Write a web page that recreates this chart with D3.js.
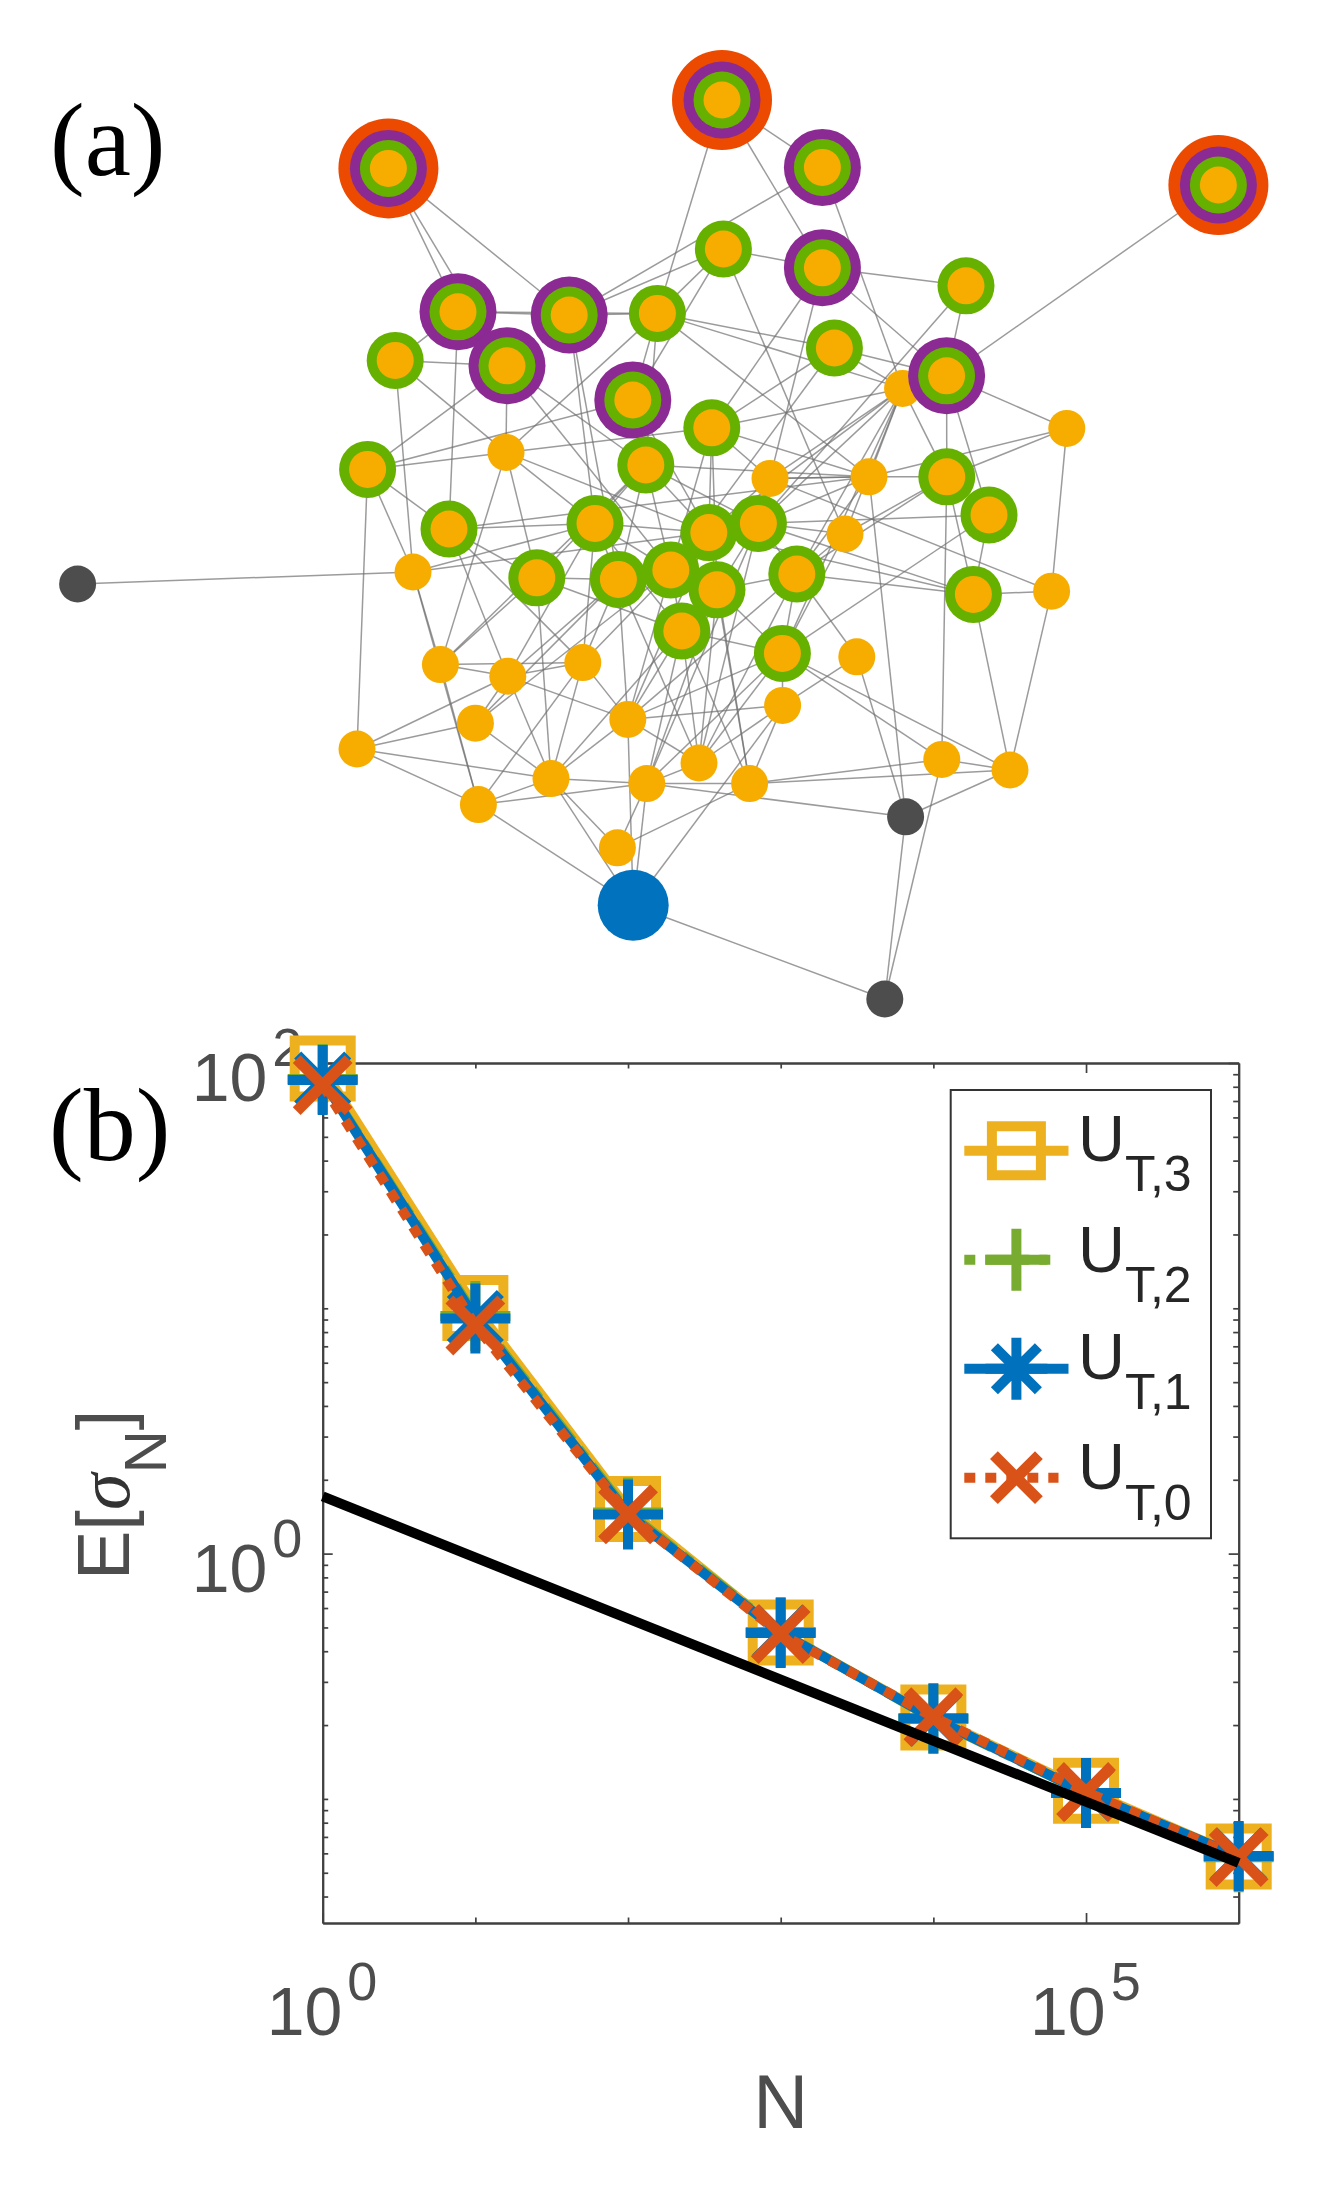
<!DOCTYPE html>
<html>
	<head>
		<meta charset="utf-8">
		<script src="https://d3js.org/d3.v7.min.js" charset="utf-8"></script>
		<style>
		body{
			margin:0;
			background-color: white;
		}
		svg{
			display:block;
		}
		</style>
	</head>
	<body>
		<div class="demo1"></div>
	</body>
	<script>
		// panel (a): network layout, node kind (-1 gray, 0 orange, 1 green, 2 purple, 3 red, 4 blue)
		var nodeX = [194.2,361,609.2,229,284.6,253.5,316.4,411.2,411.2,473.3,197.6,183.8,328.7,361.7,483,417.2,355.9,322.9,224.5,297.5,268.4,309.2,335.4,354.4,358.5,340.9,379.2,398.4,391.2,473.4,494.5,486.7,253,451.3,533.4,385,434.5,422.5,525.8,428.4,391.3,349.5,374.8,470.9,505,206.5,220.2,253.9,291.4,237.7,313.9,178.5,275.5,323.4,239.2,308.7,38.8,452.8,442.4,316.6];
		var nodeY = [84.2,50,92.5,155.9,157.5,182.9,200,83.7,133.9,187.9,180.2,234.7,156.7,124.5,142.9,174,213.9,232.5,264.5,261.7,288.9,289.7,285,266.3,294.9,315.5,261.7,287,326.7,238.4,257.5,297.2,226.2,194.2,214.2,239.2,238.4,267,295.6,328.4,352.7,381.5,391.8,379.7,385,286,332.3,338.1,331.3,361.6,359.7,374.5,389.3,391.8,402.3,423.9,292,408.4,499.5,452.6];
		var nodeKind = [3,3,3,2,2,2,2,2,2,2,1,1,1,1,1,1,1,1,1,1,1,1,1,1,1,1,1,1,1,1,1,1,0,0,0,0,0,0,0,0,0,0,0,0,0,0,0,0,0,0,0,0,0,0,0,0,-1,-1,-1,4];
		var edgeList = [
			[0,3],[0,5],[0,4],[1,12],[1,7],[1,8],[7,4],[7,33],[13,4],[13,8],[13,12],[13,6],[13,37],[8,14],[8,9],[8,16],[8,35],[14,9],[14,26],[2,9],
			[12,15],[12,33],[12,36],[15,9],[15,33],[15,16],[15,22],[33,16],[33,36],[33,29],[33,35],[33,26],[33,27],[33,37],[33,28],[33,23],[9,29],[9,30],[9,34],[34,29],[34,36],[34,38],[29,36],[36,35],[17,36],[19,23],[18,19],
			[10,3],[10,5],[3,4],[4,12],[3,12],[3,18],[10,45],[10,32],[5,11],[5,32],[5,22],[5,17],[4,19],[4,21],[12,32],[12,6],[12,17],[11,32],[11,6],[32,16],[32,23],[32,19],[32,20],[32,46],[11,51],[11,45],[11,18],[45,56],[45,19],[45,23],[45,46],[45,54],[46,47],[46,20],[18,47],[18,48],[18,20],[47,19],[20,52],[20,21],[20,25],
			[48,50],[48,52],[47,50],[47,52],[49,52],[46,54],[47,49],[51,47],[51,49],[51,52],[51,54],[54,52],[54,48],[54,59],[52,55],[52,59],[52,50],[52,53],[54,53],[50,59],[53,59],[53,55],[55,42],[59,40],[59,58],[53,42],[53,57],[42,43],[42,44],[43,44],[44,57],[43,58],[57,58],[43,28],[44,28],[43,29],[44,31],[44,38],[31,38],[31,30],[29,31],[57,39],[57,36],[39,27],[39,40],[23,31],[27,31],[26,31],[38,35],[30,26],[30,28],[29,27],[29,37],[46,48],[47,48],
			[16,35],[16,24],[17,22],[17,21],[17,19],[17,23],[17,26],[19,21],[19,22],[19,25],[19,48],[21,22],[22,24],[23,26],[6,17],[6,23],[16,23],[16,22],[35,26],[35,23],[35,36],[26,37],[26,27],[27,37],[27,28],[24,28],[24,41],[25,28],[25,41],[21,41],[21,50],[22,50],[23,50],[25,50],[27,50],[28,50],[40,50],[41,28],[41,27],[41,26],[42,23],[42,25],[42,24],[42,40],[53,25],[53,28],[53,41],[50,41],[41,40],[49,21],[47,21],[48,21],[49,22],[46,17],[18,36],[40,28],[37,28],[36,27],[36,26],[16,36],[24,27],[24,26],[25,22],[20,17],[48,23],[52,24],[53,26],[53,24]
		];

		// panel (b): values
		var sizesN = [1,10,100,1000,10000,100000,1000000];
		var ut3 = [94.9,10.03,1.52,0.477,0.2147,0.108,0.0583];
		var ut2 = [86,9.3,1.47,0.479,0.2118,0.1057,0.0579];
		var ut1 = [85.2,9.09,1.444,0.475,0.2132,0.1057,0.0585];
		var ut0 = [81.3,8.51,1.444,0.47,0.2157,0.1067,0.0579];
		var refN = [1,1000000];
		var refLine = [1.71,0.0549];
		var xTicks = [1,10,100,1000,10000,100000,1000000];
		var xMajor = [1,100000];
		var xLabels = [[1,'0'],[100000,'5']];
		var yMajor = [1,100];
		var yLabels = [[1,'0'],[100,'2']];
		var legendNames = ['3','2','1','0'];

		var svg = d3.select('.demo1').append('svg')
					.attr('width',1328)
					.attr('height',2206);

		/* ---------- panel (a) ---------- */
		var netX = d3.scaleLinear().domain([0,664]).range([0,1328]);
		var netY = d3.scaleLinear().domain([0,500]).range([0,1000]);

		var ringColor = {3:'#EB4A00',2:'#8A2A92',1:'#66B000',0:'#F7AD00','-1':'#4D4D4D',4:'#0072BE'};
		var ringRadius = {3:50,2:38.5,1:28.5,0:18.5,'-1':18.5,4:35.5};

		svg.append('g').selectAll('line').data(edgeList).enter().append('line')
			.attr('x1',function(d){ return netX(nodeX[d[0]]); })
			.attr('y1',function(d){ return netY(nodeY[d[0]]); })
			.attr('x2',function(d){ return netX(nodeX[d[1]]); })
			.attr('y2',function(d){ return netY(nodeY[d[1]]); })
			.attr('stroke','#707070')
			.attr('stroke-opacity',0.7)
			.attr('stroke-width',1.5);

		var nodeOrder = d3.range(nodeX.length).sort(function(a,b){
			var ka = nodeKind[a] > 0 && nodeKind[a] < 4 ? 1 : 0;
			var kb = nodeKind[b] > 0 && nodeKind[b] < 4 ? 1 : 0;
			return (ka-kb) || (a-b);
		});
		var nodes = svg.append('g').selectAll('g').data(nodeOrder).enter().append('g')
			.attr('transform',function(i){ return 'translate('+netX(nodeX[i])+','+netY(nodeY[i])+')'; });
		nodes.each(function(i){
			var kind = nodeKind[i];
			var rings = kind > 0 && kind < 4 ? d3.range(kind,-1,-1) : [kind];
			d3.select(this).selectAll('circle').data(rings).enter().append('circle')
				.attr('r',function(k){ return ringRadius[k]; })
				.attr('fill',function(k){ return ringColor[k]; });
		});

		/* ---------- panel (b) ---------- */
		var left = 322.7, right = 1238.7, top_ = 1063, bottom = 1923;
		var x = d3.scaleLog().domain([1,1000000]).range([left,right]);
		var y = d3.scaleLog().domain([0.0312,100]).range([bottom,top_]);

		var axisColor = '#404040';
		function notIn(list){
			return function(v){ return list.indexOf(v) < 0; };
		}
		var xMinor = xTicks.filter(notIn(xMajor)).filter(function(v){ return v < 1000000; });
		var yMinor = y.ticks().filter(notIn(yMajor));

		function drawAxis(axisFn,scale,values,size,dx,dy){
			var g = svg.append('g')
				.attr('transform','translate('+dx+','+dy+')')
				.call(axisFn(scale).tickValues(values).tickSize(size).tickSizeOuter(0).tickFormat(''));
			g.selectAll('line').attr('stroke',axisColor).attr('stroke-width',1.7);
			g.select('.domain').attr('stroke',axisColor).attr('stroke-width',2);
			return g;
		}
		drawAxis(d3.axisBottom,x,xMajor,-10,0,bottom);
		drawAxis(d3.axisBottom,x,xMinor,-5.5,0,bottom);
		drawAxis(d3.axisTop,x,xMajor,-10,0,top_);
		drawAxis(d3.axisTop,x,xMinor,-5.5,0,top_);
		drawAxis(d3.axisLeft,y,yMajor,-10,left,0);
		drawAxis(d3.axisLeft,y,yMinor,-5.5,left,0);
		drawAxis(d3.axisRight,y,yMajor,-10,right,0);
		drawAxis(d3.axisRight,y,yMinor,-5.5,right,0);

		var sansFont = '"Liberation Sans", Arial, sans-serif';
		var tickColor = '#4D4D4D';
		function powerLabel(px,py,sup){
			var t = svg.append('text')
				.attr('x',px)
				.attr('y',py)
				.attr('font-family',sansFont)
				.attr('fill',tickColor)
				.attr('font-size',68);
			t.append('tspan').text('10');
			t.append('tspan').attr('dx',5).attr('dy',-35).attr('font-size',54).text(sup);
		}
		xLabels.forEach(function(d){ powerLabel(x(d[0])-56,2035,d[1]); });
		yLabels.forEach(function(d){ powerLabel(left-131,y(d[0])+38,d[1]); });

		svg.append('text')
			.attr('x',x(1000))
			.attr('y',2127.5)
			.attr('text-anchor','middle')
			.attr('font-family',sansFont)
			.attr('font-size',76)
			.attr('fill',tickColor)
			.text('N');

		var ylab = svg.append('text')
			.attr('transform','translate(129,1580) rotate(-90)')
			.attr('font-family',sansFont)
			.attr('font-size',74)
			.attr('fill',tickColor);
		ylab.append('tspan').text('E[');
		ylab.append('tspan').attr('font-family','"Liberation Serif", serif').attr('font-style','italic').attr('fill','#333').text('σ');
		ylab.append('tspan').attr('dy',37).attr('font-size',60).text('N');
		ylab.append('tspan').attr('dy',-37).text(']');

		function panelLabel(px,py,txt){
			svg.append('text')
				.attr('x',px)
				.attr('y',py)
				.attr('font-family','"Liberation Serif", serif')
				.attr('font-size',104)
				.attr('fill','#000')
				.text(txt);
		}
		panelLabel(50,175,'(a)');
		panelLabel(49,1160,'(b)');

		// markers are custom d3 symbols, stroked not filled
		function squareShape(h){
			return function(ctx){ ctx.rect(-h,-h,2*h,2*h); };
		}
		function plusShape(h){
			return function(ctx){
				ctx.moveTo(-h,0); ctx.lineTo(h,0);
				ctx.moveTo(0,-h); ctx.lineTo(0,h);
			};
		}
		function crossShape(h){
			return function(ctx){
				ctx.moveTo(-h,-h); ctx.lineTo(h,h);
				ctx.moveTo(-h,h); ctx.lineTo(h,-h);
			};
		}
		function starShape(h,dg){
			return function(ctx){
				plusShape(h)(ctx);
				crossShape(dg)(ctx);
			};
		}
		function markerPath(draw){
			return d3.symbol().type({draw:draw}).size(1)();
		}
		var series = [
			{values:ut3,color:'#EDB120',dash:null,width:10,plot:squareShape(28),key:squareShape(24.5)},
			{values:ut2,color:'#77AC30',dash:'11 10 44 10',width:10,plot:plusShape(35),key:plusShape(31)},
			{values:ut1,color:'#0072BD',dash:null,width:10,plot:starShape(35,25),key:starShape(31,22)},
			{values:ut0,color:'#D95319',dash:'11 10',width:11,plot:crossShape(26),key:crossShape(22.5)}
		];
		var lineGen = d3.line()
			.x(function(d){ return x(d[0]); })
			.y(function(d){ return y(d[1]); });

		series.forEach(function(s){
			svg.append('path')
				.attr('d',lineGen(d3.zip(sizesN,s.values)))
				.attr('fill','none')
				.attr('stroke',s.color)
				.attr('stroke-width',10)
				.attr('stroke-dasharray',s.dash);
			svg.append('g').selectAll('path').data(d3.zip(sizesN,s.values)).enter().append('path')
				.attr('transform',function(d){ return 'translate('+x(d[0])+','+y(d[1])+')'; })
				.attr('d',markerPath(s.plot))
				.attr('fill','none')
				.attr('stroke',s.color)
				.attr('stroke-width',s.width);
		});

		svg.append('path')
			.attr('d',lineGen(d3.zip(refN,refLine)))
			.attr('fill','none')
			.attr('stroke','#000')
			.attr('stroke-width',10);

		/* ---------- legend ---------- */
		svg.append('rect')
			.attr('x',950.7)
			.attr('y',1090)
			.attr('width',260.3)
			.attr('height',448.3)
			.attr('fill','#fff')
			.attr('stroke','#333')
			.attr('stroke-width',2);

		var keyY = [1150.7,1259.7,1368.7,1477.7];
		var nameY = [1160.7,1271.7,1379,1489.3];
		series.forEach(function(s,i){
			svg.append('line')
				.attr('x1',964.3)
				.attr('x2',s.dash ? 1058.5 : 1068.5)
				.attr('y1',keyY[i])
				.attr('y2',keyY[i])
				.attr('stroke',s.color)
				.attr('stroke-width',10)
				.attr('stroke-dasharray',s.dash);
			svg.append('path')
				.attr('transform','translate(1016.4,'+keyY[i]+')')
				.attr('d',markerPath(s.key))
				.attr('fill','none')
				.attr('stroke',s.color)
				.attr('stroke-width',s.width);
			var t = svg.append('text')
				.attr('x',1078)
				.attr('y',nameY[i])
				.attr('font-family',sansFont)
				.attr('font-size',65)
				.attr('fill','#262626');
			t.append('tspan').text('U');
			t.append('tspan').attr('dy',30.3).attr('font-size',50).text('T,'+legendNames[i]);
		});
	</script>
</html>
